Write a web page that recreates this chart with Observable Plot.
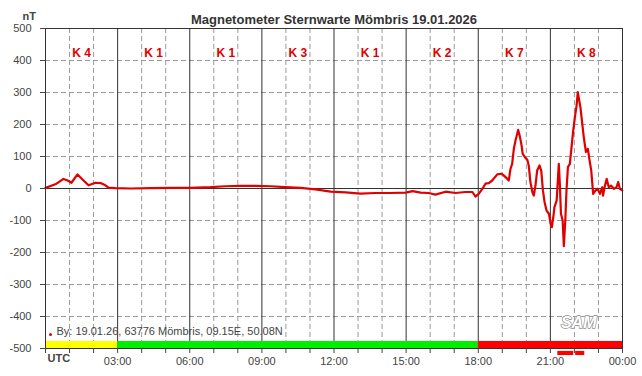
<!DOCTYPE html>
<html><head><meta charset="utf-8">
<script src="https://cdn.jsdelivr.net/npm/d3@7"></script>
<script src="https://cdn.jsdelivr.net/npm/@observablehq/plot@0.6"></script>
<style>
body{margin:0;background:#fff;}
#chart svg{font-family:"Liberation Sans",Arial,sans-serif;}
</style>
</head><body><div id="chart"></div>
<script>
const title = "Magnetometer Sternwarte Mömbris 19.01.2026";
const unitLabel = "nT";
const footnote = "By: 19.01.26, 63776 Mömbris, 09.15E, 50.08N";
const logoText = "SAM";

// time in hours UTC
const hours = [0.00,0.21,0.46,0.75,0.92,1.08,1.33,1.54,1.79,2.08,2.29,2.45,2.62,2.91,3.54,4.37,5.20,6.03,6.86,7.49,8.11,8.74,9.36,9.98,10.61,11.23,11.86,12.48,13.10,13.73,14.35,14.98,15.27,15.60,15.93,16.22,16.64,17.05,17.47,17.76,17.88,18.02,18.17,18.30,18.44,18.58,18.79,18.96,19.06,19.21,19.27,19.34,19.41,19.48,19.55,19.62,19.66,19.72,19.79,19.85,19.94,20.04,20.10,20.17,20.25,20.31,20.38,20.45,20.55,20.62,20.69,20.76,20.84,20.94,21.01,21.06,21.12,21.17,21.26,21.31,21.35,21.39,21.44,21.51,21.56,21.62,21.67,21.73,21.81,21.88,21.95,22.02,22.09,22.14,22.20,22.25,22.31,22.39,22.48,22.56,22.63,22.70,22.78,22.88,22.97,23.06,23.16,23.19,23.27,23.34,23.43,23.53,23.64,23.75,23.82,23.89,23.99];
// field variation in nT
const values = [2,8,15,30,25,18,44,28,10,18,17,12,3,1,0,1,2,2,4,7,8,8,7,4,2,-3,-10,-12,-16,-14,-14,-13,-8,-13,-14,-19,-10,-14,-11,-11,-25,-17,-1,15,17,25,44,46,41,30,25,61,77,124,150,171,183,166,140,108,98,90,72,20,-11,-22,9,56,72,56,-6,-43,-69,-79,-110,-121,-90,-58,-38,25,77,20,-79,-100,-180,-100,-6,67,77,129,181,223,259,301,275,254,213,160,114,124,88,56,-17,-6,-1,-17,4,-22,9,30,4,9,-1,4,20,-1,-6];

// K index per 3-hour block
const kBlockCenters = [1.5,4.5,7.5,10.5,13.5,16.5,19.5,22.5];
const kLabels = ["K 4","K 1","K 1","K 3","K 1","K 2","K 7","K 8"];

// activity level bar
const levelStart = [0,3,18];
const levelEnd = [3,18,24];
const levelColor = ["#ffff00","#00ee00","#ff0000"];

// marker segments below the axis
const markStart = [21.31,22.05];
const markEnd = [21.97,22.43];

const yTicks = [-500,-400,-300,-200,-100,0,100,200,300,400,500];
const hourTicks = d3.range(0,25);
const majorHours = [3,6,9,12,15,18,21];
const xTickLabels = {3:"03:00",6:"06:00",9:"09:00",12:"12:00",15:"15:00",18:"18:00",21:"21:00",24:"00:00"};

const series = hours.map((h,i)=>({h, v: values[i]}));
const levels = levelStart.map((s,i)=>({s, e: levelEnd[i], c: levelColor[i]}));
const marks = markStart.map((s,i)=>({s, e: markEnd[i]}));
const ks = kBlockCenters.map((h,i)=>({h, k: kLabels[i]}));

const chart = Plot.plot({
  width: 642, height: 376,
  marginTop: 28, marginLeft: 45, marginRight: 20, marginBottom: 28,
  style: {fontSize: "11px", color: "#444", background: "#fff"},
  x: {domain: [0,24]},
  y: {domain: [-500,500]},
  marks: [
    Plot.ruleY(yTicks.filter(d => d !== 0 && Math.abs(d) !== 500), {stroke: "#999", strokeDasharray: "5,3", strokeWidth: 1}),
    Plot.ruleX(hourTicks.filter(d => d % 3 !== 0), {stroke: "#999", strokeDasharray: "5,3", strokeWidth: 1}),
    Plot.ruleX(majorHours, {stroke: "#333", strokeWidth: 1}),
    Plot.ruleY([0], {stroke: "#333", strokeWidth: 1}),
    Plot.rectY(levels, {x1: "s", x2: "e", y1: -500, y2: -478, fill: "c"}),
    Plot.rectY(marks, {x1: "s", x2: "e", y1: -509, y2: -522, fill: "#ff0000", clip: false}),
    Plot.line(series, {x: "h", y: "v", stroke: "#e00000", strokeWidth: 2.2, strokeLinejoin: "round"}),
    Plot.frame({stroke: "#333", strokeWidth: 1}),
    Plot.text(ks, {x: "h", text: "k", frameAnchor: "top", dy: 20, fill: "#e00000", fontWeight: "bold", fontSize: 12}),
    Plot.axisY({ticks: yTicks, tickSize: 5, tickPadding: 9, label: null, tickFormat: d => String(d)}),
    Plot.axisX({ticks: hourTicks, tickSize: 5, tickPadding: 4, label: null, tickFormat: d => xTickLabels[d] ?? ""}),
    Plot.text([title], {frameAnchor: "top", dy: -14, fontWeight: "bold", fontSize: 13, fill: "#333"}),
    Plot.text([unitLabel], {frameAnchor: "top-left", dx: -23, dy: -16, fontWeight: "bold", fill: "#444"}),
    Plot.text(["UTC"], {frameAnchor: "bottom-left", dx: 2, dy: 13, textAnchor: "start", fontWeight: "bold", fill: "#444"}),
    Plot.dot([0], {frameAnchor: "bottom-left", dx: 5, dy: -14, r: 1.5, fill: "#e00000", stroke: null}),
    Plot.text([footnote], {frameAnchor: "bottom-left", dx: 11, dy: -14, textAnchor: "start", fill: "#444", fontSize: 11}),
    Plot.text([logoText], {frameAnchor: "bottom-right", dx: -26, dy: -21, fontStyle: "italic", fontWeight: "bold", fontSize: 16, fill: "#fff", stroke: "#888", strokeWidth: 1.3, letterSpacing: 2})
  ]
});
document.getElementById("chart").appendChild(chart);
</script></body></html>
